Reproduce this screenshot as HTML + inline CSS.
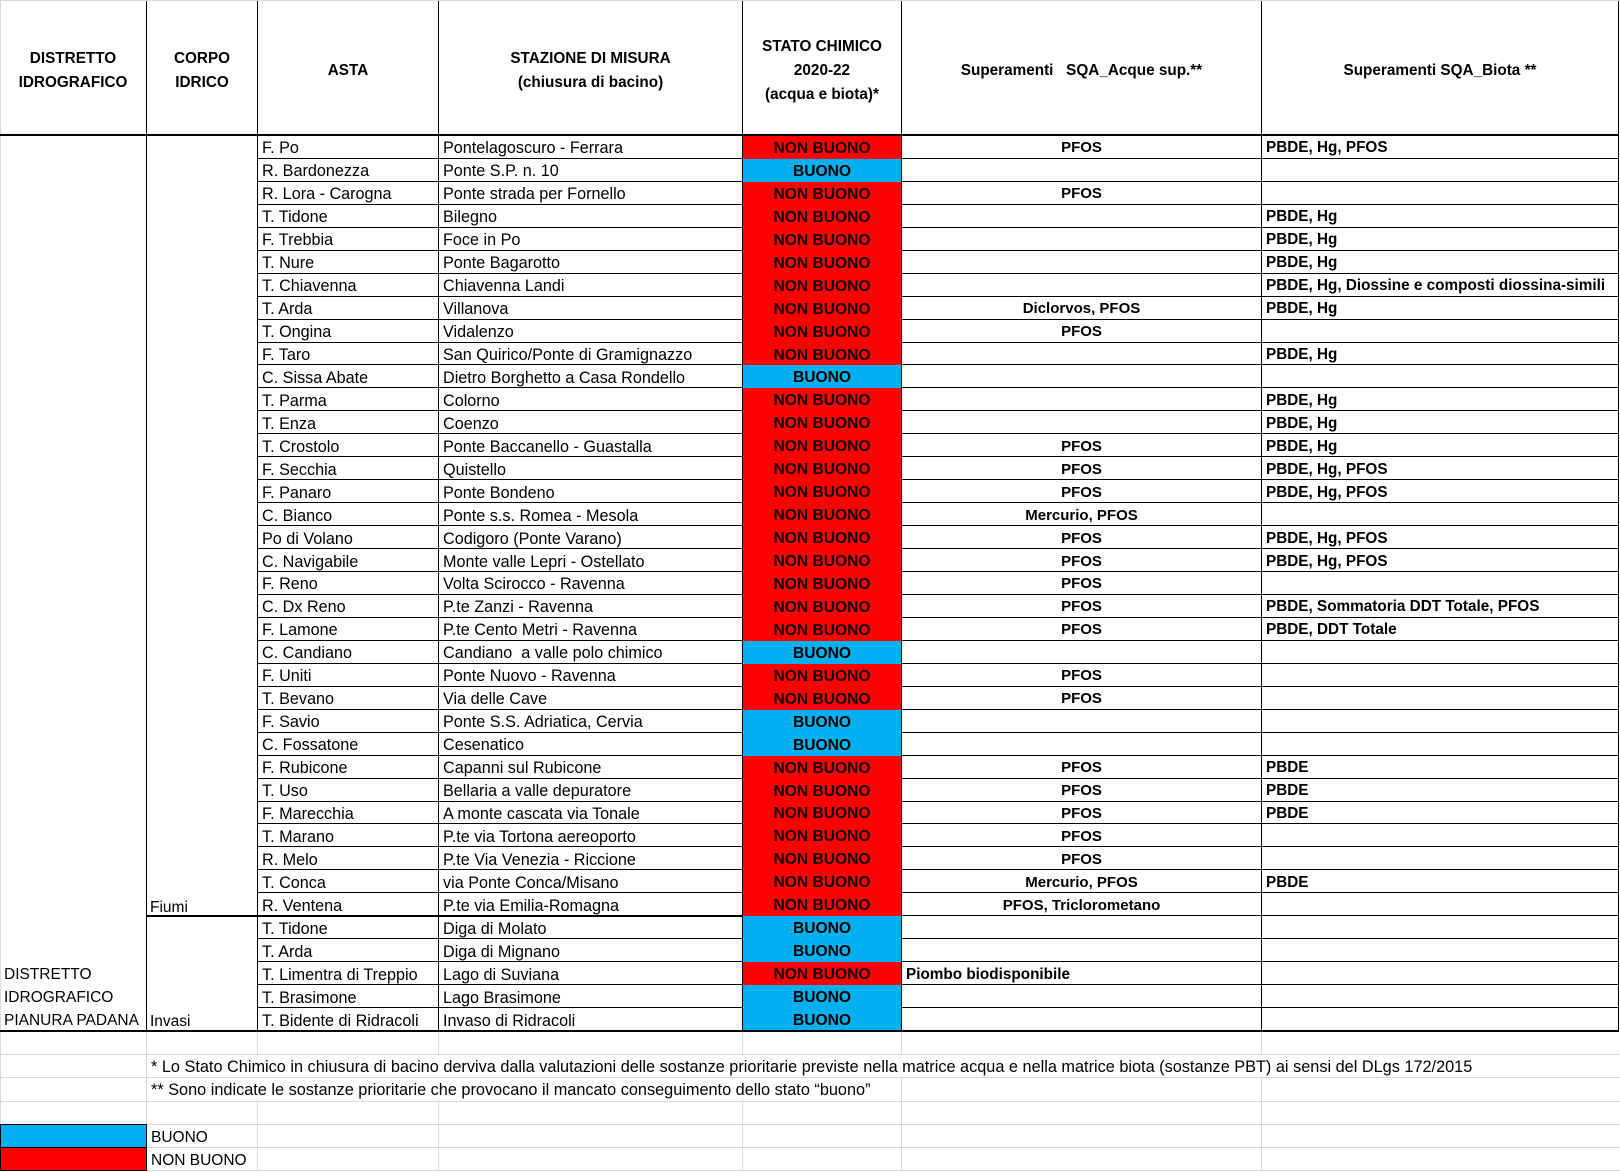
<!DOCTYPE html>
<html><head><meta charset="utf-8">
<style>
body{margin:0;width:1620px;height:1171px;position:relative;background:#fff;font-family:"Liberation Sans",sans-serif;font-size:16.2px;color:#000;overflow:hidden}
.vl{position:absolute;width:1px;background:#000}
.hl{position:absolute;background:#000}
.gv{position:absolute;width:1px;background:#d9d9d9}
.gh{position:absolute;height:1px;background:#d9d9d9}
.hd{position:absolute;top:4px;height:133px;display:flex;align-items:center;justify-content:center;text-align:center;font-weight:bold;font-size:15.3px;line-height:24px;white-space:nowrap}
#g{position:absolute;left:257px;top:136px;width:1362px;height:895px;display:grid;grid-template-columns:181px 304px 159px 360px 358px;grid-template-rows:repeat(39,1fr)}
#g>div{border-left:1px solid #000;border-bottom:1px solid #000;box-sizing:border-box;display:flex;align-items:center;padding-left:4px;padding-top:3px;white-space:nowrap;overflow:visible;line-height:18px}
#g>div:nth-child(5n){border-right:1px solid #000}
#g>div.n{background:#f00;border-bottom:none;justify-content:center;font-weight:bold;font-size:15.6px;padding-left:0;color:#100000}
#g>div.b{background:#00b0f0;border-bottom:none;justify-content:center;font-weight:bold;font-size:15.6px;padding-left:0;color:#000}
#g>div.c{justify-content:center;font-weight:bold;font-size:15px;padding-left:0}
#g>div.l{font-weight:bold;font-size:15.3px}
.t{position:absolute;white-space:nowrap;line-height:23px;font-size:15.5px}
.fn{position:absolute;left:147px;height:22px;line-height:24px;padding-left:4px;padding-right:2px;background:#fff;white-space:nowrap;font-size:16.3px}
</style></head><body>

<div class="gh" style="left:0;top:0;width:1620px"></div>
<div class="gv" style="left:0;top:0;height:1171px"></div>

<div class="vl" style="left:146px;top:1px;height:1030px"></div>
<div class="vl" style="left:257px;top:1px;height:135px"></div>
<div class="vl" style="left:438px;top:1px;height:135px"></div>
<div class="vl" style="left:742px;top:1px;height:135px"></div>
<div class="vl" style="left:901px;top:1px;height:135px"></div>
<div class="vl" style="left:1261px;top:1px;height:135px"></div>
<div class="vl" style="left:1618px;top:1px;height:135px"></div>

<div class="hd" style="left:0;width:146px">DISTRETTO<br>IDROGRAFICO</div>
<div class="hd" style="left:147px;width:110px">CORPO<br>IDRICO</div>
<div class="hd" style="left:258px;width:180px">ASTA</div>
<div class="hd" style="left:439px;width:303px">STAZIONE DI MISURA<br>(chiusura di bacino)</div>
<div class="hd" style="left:743px;width:158px">STATO CHIMICO<br>2020-22<br>(acqua e biota)*</div>
<div class="hd" style="left:902px;width:359px">Superamenti&nbsp;&nbsp; SQA_Acque sup.**</div>
<div class="hd" style="left:1262px;width:356px">Superamenti SQA_Biota **</div>

<div id="g">
<div>F. Po</div><div>Pontelagoscuro - Ferrara</div><div class="n">NON BUONO</div><div class="c">PFOS</div><div class="l">PBDE, Hg, PFOS</div>
<div>R. Bardonezza</div><div>Ponte S.P. n. 10</div><div class="b">BUONO</div><div></div><div></div>
<div>R. Lora - Carogna</div><div>Ponte strada per Fornello</div><div class="n">NON BUONO</div><div class="c">PFOS</div><div></div>
<div>T. Tidone</div><div>Bilegno</div><div class="n">NON BUONO</div><div></div><div class="l">PBDE, Hg</div>
<div>F. Trebbia</div><div>Foce in Po</div><div class="n">NON BUONO</div><div></div><div class="l">PBDE, Hg</div>
<div>T. Nure</div><div>Ponte Bagarotto</div><div class="n">NON BUONO</div><div></div><div class="l">PBDE, Hg</div>
<div>T. Chiavenna</div><div>Chiavenna Landi</div><div class="n">NON BUONO</div><div></div><div class="l">PBDE, Hg, Diossine e composti diossina-simili</div>
<div>T. Arda</div><div>Villanova</div><div class="n">NON BUONO</div><div class="c">Diclorvos, PFOS</div><div class="l">PBDE, Hg</div>
<div>T. Ongina</div><div>Vidalenzo</div><div class="n">NON BUONO</div><div class="c">PFOS</div><div></div>
<div>F. Taro</div><div>San Quirico/Ponte di Gramignazzo</div><div class="n">NON BUONO</div><div></div><div class="l">PBDE, Hg</div>
<div>C. Sissa Abate</div><div>Dietro Borghetto a Casa Rondello</div><div class="b">BUONO</div><div></div><div></div>
<div>T. Parma</div><div>Colorno</div><div class="n">NON BUONO</div><div></div><div class="l">PBDE, Hg</div>
<div>T. Enza</div><div>Coenzo</div><div class="n">NON BUONO</div><div></div><div class="l">PBDE, Hg</div>
<div>T. Crostolo</div><div>Ponte Baccanello - Guastalla</div><div class="n">NON BUONO</div><div class="c">PFOS</div><div class="l">PBDE, Hg</div>
<div>F. Secchia</div><div>Quistello</div><div class="n">NON BUONO</div><div class="c">PFOS</div><div class="l">PBDE, Hg, PFOS</div>
<div>F. Panaro</div><div>Ponte Bondeno</div><div class="n">NON BUONO</div><div class="c">PFOS</div><div class="l">PBDE, Hg, PFOS</div>
<div>C. Bianco</div><div>Ponte s.s. Romea - Mesola</div><div class="n">NON BUONO</div><div class="c">Mercurio, PFOS</div><div></div>
<div>Po di Volano</div><div>Codigoro (Ponte Varano)</div><div class="n">NON BUONO</div><div class="c">PFOS</div><div class="l">PBDE, Hg, PFOS</div>
<div>C. Navigabile</div><div>Monte valle Lepri - Ostellato</div><div class="n">NON BUONO</div><div class="c">PFOS</div><div class="l">PBDE, Hg, PFOS</div>
<div>F. Reno</div><div>Volta Scirocco - Ravenna</div><div class="n">NON BUONO</div><div class="c">PFOS</div><div></div>
<div>C. Dx Reno</div><div>P.te Zanzi - Ravenna</div><div class="n">NON BUONO</div><div class="c">PFOS</div><div class="l">PBDE, Sommatoria DDT Totale, PFOS</div>
<div>F. Lamone</div><div>P.te Cento Metri - Ravenna</div><div class="n">NON BUONO</div><div class="c">PFOS</div><div class="l">PBDE, DDT Totale</div>
<div>C. Candiano</div><div>Candiano&nbsp; a valle polo chimico</div><div class="b">BUONO</div><div></div><div></div>
<div>F. Uniti</div><div>Ponte Nuovo - Ravenna</div><div class="n">NON BUONO</div><div class="c">PFOS</div><div></div>
<div>T. Bevano</div><div>Via delle Cave</div><div class="n">NON BUONO</div><div class="c">PFOS</div><div></div>
<div>F. Savio</div><div>Ponte S.S. Adriatica, Cervia</div><div class="b">BUONO</div><div></div><div></div>
<div>C. Fossatone</div><div>Cesenatico</div><div class="b">BUONO</div><div></div><div></div>
<div>F. Rubicone</div><div>Capanni sul Rubicone</div><div class="n">NON BUONO</div><div class="c">PFOS</div><div class="l">PBDE</div>
<div>T. Uso</div><div>Bellaria a valle depuratore</div><div class="n">NON BUONO</div><div class="c">PFOS</div><div class="l">PBDE</div>
<div>F. Marecchia</div><div>A monte cascata via Tonale</div><div class="n">NON BUONO</div><div class="c">PFOS</div><div class="l">PBDE</div>
<div>T. Marano</div><div>P.te via Tortona aereoporto</div><div class="n">NON BUONO</div><div class="c">PFOS</div><div></div>
<div>R. Melo</div><div>P.te Via Venezia - Riccione</div><div class="n">NON BUONO</div><div class="c">PFOS</div><div></div>
<div>T. Conca</div><div>via Ponte Conca/Misano</div><div class="n">NON BUONO</div><div class="c">Mercurio, PFOS</div><div class="l">PBDE</div>
<div>R. Ventena</div><div>P.te via Emilia-Romagna</div><div class="n">NON BUONO</div><div class="c">PFOS, Triclorometano</div><div></div>
<div>T. Tidone</div><div>Diga di Molato</div><div class="b">BUONO</div><div></div><div></div>
<div>T. Arda</div><div>Diga di Mignano</div><div class="b">BUONO</div><div></div><div></div>
<div>T. Limentra di Treppio</div><div>Lago di Suviana</div><div class="n">NON BUONO</div><div class="l">Piombo biodisponibile</div><div></div>
<div>T. Brasimone</div><div>Lago Brasimone</div><div class="b">BUONO</div><div></div><div></div>
<div>T. Bidente di Ridracoli</div><div>Invaso di Ridracoli</div><div class="b">BUONO</div><div></div><div></div>
</div>

<div class="hl" style="left:0;top:134px;width:1619px;height:2px"></div>
<div class="hl" style="left:146px;top:915px;width:596px;height:2px"></div>
<div class="hl" style="left:0;top:1030px;width:1619px;height:2px"></div>

<div class="t" style="left:4px;top:963px">DISTRETTO<br>IDROGRAFICO<br>PIANURA PADANA</div>
<div class="t" style="left:150px;top:896px">Fiumi</div>
<div class="t" style="left:150px;top:1010px">Invasi</div>

<div class="gh" style="left:0;top:1054px;width:1620px"></div>
<div class="gh" style="left:0;top:1077px;width:1620px"></div>
<div class="gh" style="left:0;top:1101px;width:1620px"></div>
<div class="gh" style="left:0;top:1124px;width:1620px"></div>
<div class="gh" style="left:0;top:1147px;width:1620px"></div>
<div class="gh" style="left:0;top:1170px;width:1620px"></div>
<div class="gv" style="left:146px;top:1032px;height:139px"></div>
<div class="gv" style="left:257px;top:1032px;height:139px"></div>
<div class="gv" style="left:438px;top:1032px;height:139px"></div>
<div class="gv" style="left:742px;top:1032px;height:139px"></div>
<div class="gv" style="left:901px;top:1032px;height:139px"></div>
<div class="gv" style="left:1261px;top:1032px;height:139px"></div>

<div class="fn" style="top:1055px">* Lo Stato Chimico in chiusura di bacino derviva dalla valutazioni delle sostanze prioritarie previste nella matrice acqua e nella matrice biota (sostanze PBT) ai sensi del DLgs 172/2015</div>
<div class="fn" style="top:1078px">** Sono indicate le sostanze prioritarie che provocano il mancato conseguimento dello stato “buono”</div>

<div style="position:absolute;left:0;top:1124px;width:147px;height:24px;box-sizing:border-box;border:1px solid #000;background:#00b0f0"></div>
<div style="position:absolute;left:0;top:1147px;width:147px;height:24px;box-sizing:border-box;border:1px solid #000;background:#f00"></div>
<div class="t" style="left:151px;top:1126px">BUONO</div>
<div class="t" style="left:151px;top:1149px">NON BUONO</div>

</body></html>
